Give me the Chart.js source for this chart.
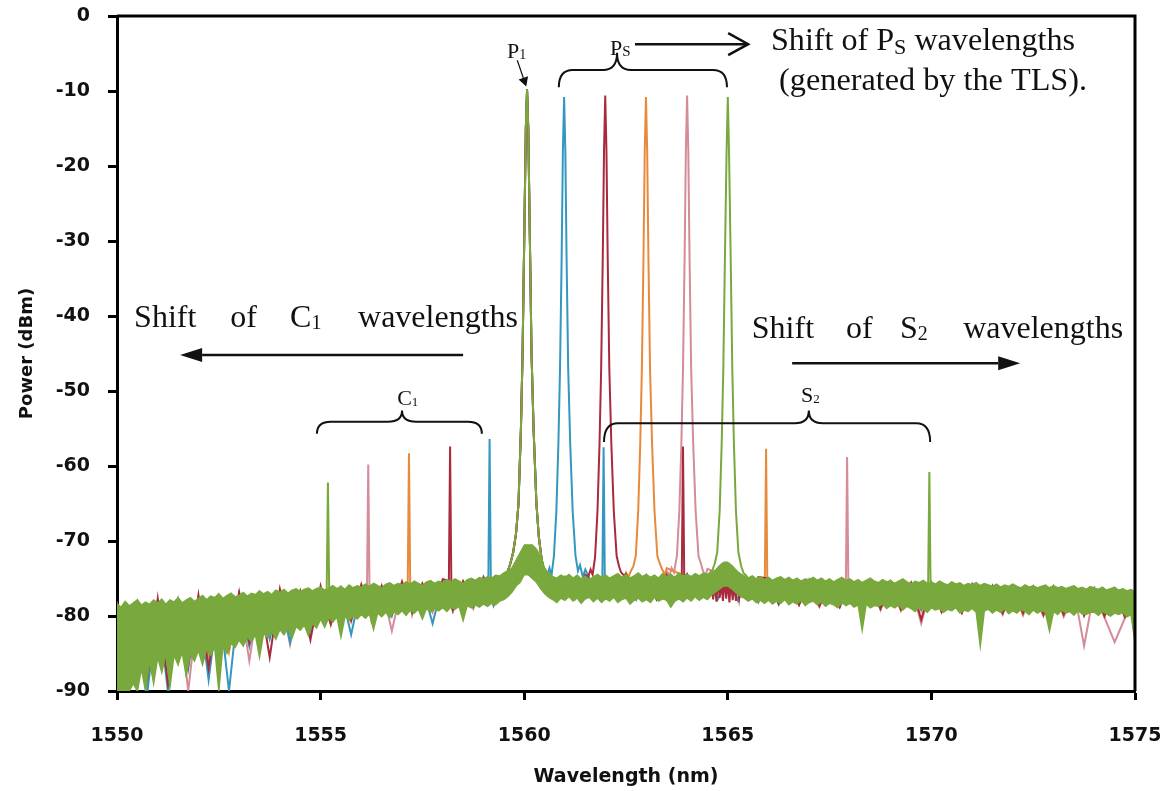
<!DOCTYPE html>
<html>
<head>
<meta charset="utf-8">
<script src="https://cdn.jsdelivr.net/npm/chart.js@4.4.1/dist/chart.umd.min.js"></script>
<style>
  body { margin: 0; background: #fff; }
  #wrap { width: 1163px; height: 791px; }
</style>
</head>
<body>
<div id="wrap"><canvas id="myChart" width="1163" height="791"></canvas></div>
<script>
// axis ticks: wavelength (nm) and power (dBm)
const xTicks = [1550, 1555, 1560, 1565, 1570, 1575];
const yTicks = [0, -10, -20, -30, -40, -50, -60, -70, -80, -90];

// green trace noise band, upper and lower edge, every 0.1 nm from 1550 to 1575
const greenTop = [
  -78.4, -78.9, -78.1, -78.7, -78.3, -77.9, -78.6, -78.2, -78.5, -77.9,
  -78.3, -77.8, -78.5, -77.9, -78.2, -77.6, -78.3, -77.9, -77.6, -78.1,
  -77.7, -77.3, -77.9, -77.4, -77.6, -77.1, -77.7, -77.3, -77.0, -77.5,
  -77.3, -76.9, -77.4, -77.0, -77.2, -76.7, -77.1, -76.8, -77.2, -76.6,
  -76.9, -76.5, -77.0, -76.6, -76.4, -76.8, -76.5, -76.3, -76.7, -76.4,
  -76.2, -76.6, -76.3, -76.0, -76.4, -76.1, -76.5, -75.9, -76.3, -76.0,
  -76.2, -75.8, -76.1, -75.7, -76.0, -76.3, -75.8, -75.6, -76.0, -75.7,
  -75.9, -75.5, -75.8, -75.4, -75.7, -76.0, -75.5, -75.3, -75.7, -75.4,
  -75.6, -75.2, -75.5, -75.1, -75.4, -75.7, -75.2, -75.0, -75.3, -74.9,
  -75.1, -74.8, -75.0, -74.6, -74.7, -74.3, -74.1, -73.5, -72.5, -71.5,
  -70.5, -70.5, -70.5, -71.0, -72.0, -73.5, -74.3, -74.8, -75.0, -74.6,
  -74.9, -74.5, -75.0, -74.6, -75.1, -74.7, -75.2, -74.8, -74.5, -74.9,
  -74.6, -75.0, -74.7, -74.4, -74.9, -74.5, -75.0, -74.7, -74.3, -74.8,
  -74.5, -74.9, -74.6, -75.0, -74.4, -74.8, -74.5, -74.9, -74.3, -74.7,
  -74.5, -74.8, -74.4, -74.7, -74.3, -74.5, -74.2, -73.8, -73.2, -72.8,
  -72.8, -73.2, -73.8, -74.3, -74.6, -75.0, -74.7, -75.1, -74.8, -75.2,
  -74.9, -75.3, -75.0, -74.8, -75.2, -74.9, -75.3, -75.0, -75.4, -75.1,
  -75.2, -74.9, -75.3, -75.0, -75.4, -75.1, -75.5, -75.2, -74.9, -75.3,
  -75.1, -75.5, -75.2, -75.6, -75.3, -75.0, -75.4, -75.6, -75.2, -75.5,
  -75.3, -75.7, -75.4, -75.1, -75.5, -75.8, -75.4, -75.6, -75.3, -75.7,
  -75.5, -75.8, -75.4, -75.7, -75.9, -75.5, -75.8, -75.6, -76.0, -75.7,
  -75.9, -75.6, -76.0, -75.7, -75.9, -76.1, -75.8, -76.2, -75.9, -76.1,
  -75.8, -76.1, -76.3, -75.9, -76.2, -76.0, -76.3, -76.1, -75.9, -76.3,
  -76.0, -76.3, -76.1, -76.4, -76.2, -76.0, -76.4, -76.2, -76.5, -76.1,
  -76.3, -76.5, -76.2, -76.6, -76.4, -76.2, -76.6, -76.4, -76.7, -76.5,
  -76.8
];
const greenBottom = [
  -90.0, -90.0, -90.0, -90.0, -89.0, -90.0, -87.0, -90.0, -86.0, -89.0,
  -85.5, -87.5, -85.0, -89.5, -85.2, -86.5, -84.8, -88.0, -85.0, -86.0,
  -84.6, -86.5, -84.4, -85.2, -84.2, -90.0, -84.0, -85.0, -83.6, -84.2,
  -83.2, -84.0, -82.8, -83.4, -82.5, -85.5, -82.3, -82.9, -82.0, -83.1,
  -81.8, -82.5, -81.6, -82.9, -81.4, -81.9, -81.2, -82.6, -81.0, -81.6,
  -80.4, -81.5, -80.2, -80.8, -80.1, -82.8, -80.0, -80.6, -79.9, -80.4,
  -79.8, -80.3, -79.7, -81.8, -79.6, -80.1, -79.5, -80.2, -79.4, -79.8,
  -79.3, -79.9, -79.2, -79.6, -79.1, -80.4, -79.0, -79.5, -79.0, -79.3,
  -78.9, -79.4, -78.8, -79.1, -78.7, -80.6, -78.6, -78.9, -78.5, -78.8,
  -78.4, -78.7, -78.3, -78.5, -78.0, -77.8, -77.4, -76.8, -76.0, -75.5,
  -74.5, -74.5, -75.0, -75.5, -76.3, -77.0, -77.5, -77.8, -78.2, -77.6,
  -77.9, -77.4, -78.0, -77.6, -78.3, -77.7, -77.5, -78.1, -77.6, -78.2,
  -77.7, -78.0, -77.5, -78.2, -77.8, -77.6, -78.4, -77.9, -77.6, -78.1,
  -77.8, -78.2, -77.5, -78.0, -77.7, -77.9, -78.8, -78.0, -77.7, -78.1,
  -77.6, -78.0, -77.4, -77.9, -77.5, -77.8, -77.2, -76.8, -76.4, -76.0,
  -76.0, -76.4, -76.9, -77.3, -77.6, -78.0, -77.7, -78.2, -77.9, -78.3,
  -77.9, -78.4, -78.0, -78.3, -77.8, -78.5, -78.1, -78.4, -77.9, -78.6,
  -78.2, -78.0, -78.5, -78.1, -78.7, -78.3, -78.5, -78.9, -78.2, -78.6,
  -78.3, -78.8, -78.5, -81.9, -78.4, -78.9, -78.6, -78.7, -78.4, -79.0,
  -78.6, -78.9, -78.5, -79.2, -78.7, -79.0, -79.4, -78.8, -79.1, -79.5,
  -78.9, -79.2, -79.0, -79.5, -79.1, -79.3, -78.9, -79.6, -79.2, -79.4,
  -79.0, -79.5, -84.0, -79.3, -79.1, -79.6, -79.2, -79.5, -79.0, -79.7,
  -79.3, -79.6, -79.1, -79.4, -79.8, -79.2, -79.6, -79.3, -79.5, -82.0,
  -79.4, -79.8, -79.2, -79.6, -79.4, -79.9, -79.3, -79.7, -79.8, -79.5,
  -79.5, -79.9, -79.4, -79.7, -80.0, -79.6, -79.8, -79.5, -80.1, -79.8,
  -83.5
];

// other traces every 0.25 nm from 1550 to 1575 (mostly hidden under green)
const redFloor = [
  -78.0, -90.0, -78.6, -88.0,  -77.7, -89.0, -78.2, -86.5,  -77.2, -87.0, -77.8, -84.0,
  -76.8, -83.5, -77.2, -85.5,  -76.4, -82.0, -76.8, -83.2,  -76.0, -81.0, -76.3, -80.5,
  -75.8, -80.0, -76.0, -79.6,  -75.4, -79.5, -75.7, -79.0,  -75.1, -79.1, -75.4, -78.6,
  -74.8, -78.2, -74.5, -73.0,  -70.0, -72.0, -74.6, -77.0,  -74.8, -77.6, -74.5, -77.2,
  -70.0, -70.0, -74.4, -77.4,  -74.6, -77.8, -74.5, -77.5,  -74.4, -77.3, -74.6, -76.5,
  -76.5, -75.2, -77.6, -74.8,  -75.0, -78.3, -75.2, -78.5,  -75.2, -78.6, -75.3, -78.8,
  -75.3, -78.9, -75.5, -79.0,  -75.4, -79.1, -75.6, -80.5,  -75.6, -79.4, -75.8, -79.5,
  -75.8, -79.5, -76.0, -79.6,  -76.0, -79.6, -76.1, -79.8,  -76.1, -79.8, -76.3, -79.9,
  -76.3, -80.0, -76.4, -80.1,  -77.5
];
const blueFloor = [
  -78.6, -88.0, -78.8, -90.0,  -78.3, -90.0, -78.4, -87.0,  -77.8, -88.5, -77.9, -90.0,
  -77.3, -84.0, -77.5, -83.0,  -76.9, -83.5, -77.0, -82.4,  -76.5, -81.0, -76.6, -82.5,
  -76.2, -80.2, -76.3, -80.0,  -75.9, -79.6, -76.0, -81.0,  -75.6, -79.2, -75.7, -78.8,
  -75.2, -78.5, -75.0, -74.0,  -70.0, -72.0, -74.8, -74.0,  -70.0, -70.0, -73.8, -76.8,
  -74.8, -77.6, -74.9, -77.8,  -74.9, -77.7, -74.8, -77.6,  -74.9, -77.5, -75.0, -77.8,
  -75.1, -77.9, -75.2, -78.1,  -75.3, -78.4, -75.4, -78.3,  -75.5, -78.6, -75.6, -78.7,
  -75.6, -78.8, -75.7, -79.0,  -75.8, -79.0, -75.9, -79.1,  -75.9, -79.3, -76.0, -79.4,
  -76.1, -79.4, -76.2, -79.6,  -76.2, -79.5, -76.3, -79.7,  -76.4, -79.7, -76.5, -79.8,
  -76.5, -79.9, -76.6, -80.0,  -77.8
];
const orangeFloor = [
  -78.7, -87.0, -78.9, -86.0,  -78.2, -88.5, -78.5, -85.5,  -77.7, -85.0, -78.0, -84.8,
  -77.2, -83.8, -77.4, -82.8,  -76.8, -82.4, -77.0, -81.8,  -76.4, -81.2, -76.5, -80.6,
  -76.1, -80.4, -76.2, -79.9,  -75.8, -79.8, -75.9, -79.3,  -75.5, -79.4, -75.6, -78.9,
  -75.1, -78.6, -74.9, -74.0,  -70.0, -72.0, -74.7, -77.2,  -74.9, -77.6, -74.8, -77.4,
  -74.8, -77.5, -74.2, -73.8,  -70.0, -70.0, -73.6, -74.2,  -74.8, -77.6, -74.9, -77.8,
  -75.0, -77.9, -75.1, -78.0,  -75.2, -78.3, -75.3, -78.5,  -75.4, -78.7, -75.5, -78.6,
  -75.6, -78.9, -75.7, -79.1,  -75.7, -79.2, -75.8, -79.3,  -75.9, -79.4, -76.0, -79.5,
  -76.0, -79.6, -76.2, -79.7,  -76.2, -79.8, -76.3, -79.9,  -76.3, -79.9, -76.4, -80.0,
  -76.5, -80.1, -76.6, -80.2,  -77.9
];
const pinkFloor = [
  -78.8, -86.0, -78.5, -89.0,  -78.3, -88.0, -78.1, -90.0,  -77.8, -86.0, -77.6, -84.5,
  -77.3, -86.0, -77.1, -83.0,  -76.9, -83.8, -76.7, -82.0,  -76.5, -81.0, -76.3, -80.8,
  -76.2, -80.5, -76.0, -82.0,  -75.9, -79.7, -75.7, -79.5,  -75.6, -79.3, -75.4, -79.0,
  -75.2, -78.6, -74.9, -74.0,  -70.0, -72.0, -74.8, -77.3,  -74.9, -77.7, -74.8, -77.5,
  -74.9, -77.6, -74.8, -77.8,  -74.9, -77.7, -74.0, -73.9,  -70.0, -70.0, -73.7, -74.3,
  -75.1, -78.0, -75.2, -78.2,  -75.3, -78.5, -75.4, -78.4,  -75.5, -78.8, -75.6, -78.7,
  -75.6, -79.0, -75.7, -79.2,  -75.8, -79.3, -75.9, -81.0,  -76.0, -79.5, -76.1, -79.6,
  -76.1, -79.7, -76.2, -79.8,  -76.3, -79.9, -76.4, -80.0,  -76.4, -80.1, -76.5, -84.0,
  -76.6, -80.2, -83.5, -80.3,  -78.0
];

// pump P1 near 1560 nm, common to all traces
const pumpPeak = [
  [1559.6, -74.0], [1559.66, -73.0], [1559.73, -71.5], [1559.8, -69.0], [1559.86, -65.0],
  [1559.92, -55.0], [1559.96, -45.0], [1560.0, -30.0], [1560.04, -15.0], [1560.07, -9.8],
  [1560.1, -15.0], [1560.14, -30.0], [1560.18, -45.0], [1560.23, -55.0], [1560.3, -65.0],
  [1560.36, -69.5], [1560.43, -72.5], [1560.5, -74.2]
];

// signal Ps peaks
const bluePs = [
  [1560.56, -74.8], [1560.62, -73.6], [1560.67, -74.6], [1560.73, -72.0], [1560.79, -66],
  [1560.84, -57], [1560.88, -47], [1560.92, -32], [1560.95, -18], [1560.98, -10.8],
  [1561.01, -18], [1561.04, -32], [1561.08, -47], [1561.13, -57], [1561.19, -66],
  [1561.26, -72], [1561.32, -74.0], [1561.37, -73.2], [1561.44, -74.8]
];
const redPs = [
  [1561.57, -74.8], [1561.63, -73.8], [1561.68, -74.5], [1561.74, -72.2], [1561.8, -66],
  [1561.85, -57], [1561.89, -47], [1561.93, -32], [1561.96, -18], [1561.99, -10.6],
  [1562.02, -18], [1562.05, -32], [1562.09, -47], [1562.14, -57], [1562.2, -66],
  [1562.27, -72], [1562.33, -73.4], [1562.38, -74.2], [1562.45, -74.6]
];
const orangePs = [
  [1562.56, -74.8], [1562.62, -74.0], [1562.68, -73.4], [1562.74, -72.0], [1562.8, -66],
  [1562.85, -57], [1562.89, -47], [1562.93, -32], [1562.96, -18], [1562.99, -10.8],
  [1563.02, -18], [1563.05, -32], [1563.09, -47], [1563.14, -57], [1563.2, -66],
  [1563.27, -72], [1563.33, -73.0], [1563.39, -73.8], [1563.45, -74.5]
];
const pinkPs = [
  [1563.57, -74.6], [1563.62, -73.6], [1563.68, -74.2], [1563.75, -72.0], [1563.81, -66],
  [1563.86, -57], [1563.9, -47], [1563.94, -32], [1563.97, -18], [1564.0, -10.6],
  [1564.03, -18], [1564.06, -32], [1564.1, -47], [1564.15, -57], [1564.21, -66],
  [1564.28, -72], [1564.34, -73.0], [1564.39, -74.0], [1564.45, -74.6]
];
const greenPs = [
  [1564.55, -74.3], [1564.62, -73.9], [1564.68, -73.0], [1564.74, -71.5], [1564.8, -66],
  [1564.85, -57], [1564.89, -47], [1564.93, -32], [1564.97, -18], [1565.0, -10.8],
  [1565.03, -18], [1565.07, -32], [1565.11, -47], [1565.15, -57], [1565.2, -66],
  [1565.26, -71.5], [1565.33, -73.4], [1565.39, -74.3], [1565.45, -74.6]
];

// idlers C1 and S2
const blueC1 = [[1559.12, -75.2], [1559.15, -56.4], [1559.18, -75.0]];
const blueS2 = [[1561.92, -75.0], [1561.95, -57.5], [1561.98, -75.2]];
const redC1 = [[1558.15, -75.3], [1558.18, -57.4], [1558.21, -75.4]];
const redS2 = [[1563.87, -74.8], [1563.9, -57.4], [1563.93, -75.0]];
const orangeC1 = [[1557.14, -75.8], [1557.17, -58.3], [1557.2, -75.7]];
const orangeS2 = [[1565.91, -75.2], [1565.94, -57.7], [1565.97, -75.4]];
const pinkC1 = [[1556.14, -76.1], [1556.17, -59.8], [1556.2, -76.2]];
const pinkS2 = [[1567.9, -75.5], [1567.93, -58.8], [1567.96, -75.6]];
const greenC1 = [[1555.15, -76.4], [1555.18, -62.2], [1555.21, -76.3]];
const greenS2 = [[1569.92, -75.8], [1569.95, -60.8], [1569.98, -76.0]];

// red trace bump under the 1565 nm signal
const redBlock = [
  [1564.6, -75.6], [1564.64, -77.8], [1564.68, -75.2], [1564.72, -78.1], [1564.76, -75.0],
  [1564.8, -77.6], [1564.84, -75.3], [1564.88, -78.0], [1564.92, -75.1], [1564.96, -77.7],
  [1565.0, -75.4], [1565.04, -78.2], [1565.08, -75.2], [1565.12, -77.9], [1565.16, -75.5],
  [1565.2, -78.0], [1565.24, -75.3], [1565.28, -77.6], [1565.32, -75.8], [1565.38, -77.4]
];

const fineX = greenTop.map((_, i) => +(1550 + i * 0.1).toFixed(2));
const coarseX = redFloor.map((_, i) => +(1550 + i * 0.25).toFixed(2));

function buildSeries(xs, ys, peaks) {
  const pts = [];
  xs.forEach((x, i) => {
    const inside = peaks.some(seg => x >= seg[0][0] && x <= seg[seg.length - 1][0]);
    if (!inside) pts.push({x: x, y: ys[i]});
  });
  peaks.forEach(seg => seg.forEach(p => pts.push({x: p[0], y: p[1]})));
  pts.sort((a, b) => a.x - b.x);
  return pts;
}
const toPts = (xs, ys) => xs.map((x, i) => ({x: x, y: ys[i]}));

const GREEN = '#79a83c';
const lineDs = (data, color, width) => ({
  data: data, borderColor: color, borderWidth: width, pointRadius: 0, tension: 0, fill: false
});

const datasets = [
  lineDs(buildSeries(fineX, greenTop, [pumpPeak, greenPs, greenC1, greenS2]), GREEN, 2),
  Object.assign(lineDs(toPts(fineX, greenTop), GREEN, 1), {fill: '+1', backgroundColor: GREEN}),
  lineDs(toPts(fineX, greenBottom), GREEN, 1.5),
  lineDs(buildSeries(coarseX, redFloor, [pumpPeak, redPs, redC1, redS2, redBlock]), '#a82a3c', 2),
  lineDs(buildSeries(coarseX, blueFloor, [pumpPeak, bluePs, blueC1, blueS2]), '#3497bf', 2),
  lineDs(buildSeries(coarseX, orangeFloor, [pumpPeak, orangePs, orangeC1, orangeS2]), '#e88a3c', 2),
  lineDs(buildSeries(coarseX, pinkFloor, [pumpPeak, pinkPs, pinkC1, pinkS2]), '#d58b98', 2)
];

// text pieces: [text, fontSize, baselineShift]
function drawRich(ctx, pieces, x, y, width) {
  let natural = 0;
  pieces.forEach(p => { ctx.font = p[1] + 'px "Liberation Serif"'; natural += ctx.measureText(p[0]).width; });
  const sx = width ? width / natural : 1;
  ctx.save();
  ctx.translate(x, y);
  ctx.scale(sx, 1);
  let cx = 0;
  pieces.forEach(p => {
    ctx.font = p[1] + 'px "Liberation Serif"';
    ctx.fillText(p[0], cx, p[2] || 0);
    cx += ctx.measureText(p[0]).width;
  });
  ctx.restore();
}

function brace(ctx, x1, x2, xm, yEnd, yBar, yTip) {
  const r = 14;
  ctx.beginPath();
  ctx.moveTo(x1, yEnd);
  ctx.quadraticCurveTo(x1, yBar, x1 + r, yBar);
  ctx.lineTo(xm - r, yBar);
  ctx.quadraticCurveTo(xm, yBar, xm, yTip);
  ctx.quadraticCurveTo(xm, yBar, xm + r, yBar);
  ctx.lineTo(x2 - r, yBar);
  ctx.quadraticCurveTo(x2, yBar, x2, yEnd);
  ctx.stroke();
}

function arrow(ctx, x1, y1, x2, y2, len, half, open) {
  const a = Math.atan2(y2 - y1, x2 - x1);
  const bx = x2 - len * Math.cos(a), by = y2 - len * Math.sin(a);
  const nx = -Math.sin(a) * half, ny = Math.cos(a) * half;
  ctx.beginPath();
  ctx.moveTo(x1, y1);
  ctx.lineTo(open ? x2 : bx, open ? y2 : by);
  ctx.stroke();
  ctx.beginPath();
  if (open) {
    ctx.moveTo(bx + nx, by + ny); ctx.lineTo(x2, y2); ctx.lineTo(bx - nx, by - ny);
    ctx.stroke();
  } else {
    ctx.moveTo(x2, y2); ctx.lineTo(bx + nx, by + ny); ctx.lineTo(bx - nx, by - ny);
    ctx.closePath(); ctx.fill();
  }
}

const notes = {
  id: 'notes',
  afterDatasetsDraw(chart) {
    const ctx = chart.ctx, a = chart.chartArea;
    const X = v => chart.scales.x.getPixelForValue(v);
    const Y = v => chart.scales.y.getPixelForValue(v);
    ctx.save();
    // frame top and right
    ctx.strokeStyle = '#000';
    ctx.lineWidth = 3;
    ctx.beginPath();
    ctx.moveTo(a.left, a.top); ctx.lineTo(a.right, a.top); ctx.lineTo(a.right, a.bottom);
    ctx.stroke();

    ctx.fillStyle = '#111';
    ctx.strokeStyle = '#111';
    ctx.textBaseline = 'alphabetic';

    // P1
    drawRich(ctx, [['P', 22], ['1', 14, 1]], X(1559.58), Y(-5.6));
    ctx.lineWidth = 1.2;
    arrow(ctx, X(1559.83), Y(-5.9), X(1560.05), Y(-9.4), 9, 5, false);

    // Ps
    drawRich(ctx, [['P', 22], ['S', 15, 1]], X(1562.11), Y(-5.2));
    ctx.lineWidth = 2.5;
    arrow(ctx, X(1562.72), Y(-3.75), X(1565.5), Y(-3.75), 20, 11, true);
    ctx.lineWidth = 2;
    brace(ctx, X(1560.85), X(1564.98), X(1562.28), Y(-9.5), Y(-7.2), Y(-4.9));
    drawRich(ctx, [['Shift of P', 32], ['S', 22, 4], [' wavelengths', 32]], X(1566.06), Y(-4.5), 304);
    drawRich(ctx, [['(generated by the TLS).', 32]], X(1566.26), Y(-9.8), 308);

    // C1
    const yc = Y(-41.5);
    drawRich(ctx, [['Shift', 32]], X(1550.42), yc);
    drawRich(ctx, [['of', 32]], X(1552.78), yc);
    drawRich(ctx, [['C', 32], ['1', 20, 2]], X(1554.25), yc);
    drawRich(ctx, [['wavelengths', 32]], X(1555.92), yc);
    ctx.lineWidth = 2.5;
    arrow(ctx, X(1558.5), Y(-45.2), X(1551.55), Y(-45.2), 22, 7, false);
    ctx.lineWidth = 2;
    brace(ctx, X(1554.91), X(1558.96), X(1557.0), Y(-55.7), Y(-54.1), Y(-52.6));
    drawRich(ctx, [['C', 22], ['1', 13, 1]], X(1556.88), Y(-51.8));

    // S2
    const ys = Y(-42.9);
    drawRich(ctx, [['Shift', 32]], X(1565.59), ys);
    drawRich(ctx, [['of', 32]], X(1567.9), ys);
    drawRich(ctx, [['S', 32], ['2', 20, 2]], X(1569.23), ys);
    drawRich(ctx, [['wavelengths', 32]], X(1570.78), ys);
    ctx.lineWidth = 2.5;
    arrow(ctx, X(1566.58), Y(-46.3), X(1572.18), Y(-46.3), 22, 7, false);
    ctx.lineWidth = 2;
    brace(ctx, X(1561.96), X(1569.97), X(1566.99), Y(-56.8), Y(-54.3), Y(-52.6));
    drawRich(ctx, [['S', 22], ['2', 13, 1]], X(1566.8), Y(-51.5));
    ctx.restore();
  }
};

const ctx = document.getElementById('myChart').getContext('2d');
const myChart = new Chart(ctx, {
  type: 'line',
  data: { datasets: datasets },
  options: {
    responsive: false,
    animation: false,
    layout: { padding: { left: 0, right: 28, top: 16, bottom: 0 } },
    plugins: { legend: { display: false }, tooltip: { enabled: false } },
    scales: {
      x: {
        type: 'linear',
        min: 1550,
        max: 1575,
        afterBuildTicks: s => { s.ticks = xTicks.map(v => ({value: v})); },
        afterFit: s => { s.height = 100; s.paddingLeft = 0; s.paddingRight = 0; },
        ticks: {
          color: '#111',
          padding: 25,
          maxRotation: 0,
          callback: v => String(v),
          font: { family: 'DejaVu Sans', weight: 'bold', size: 19 }
        },
        grid: { drawOnChartArea: false, drawTicks: true, tickLength: 9, tickWidth: 3, tickColor: '#000' },
        border: { display: true, width: 3, color: '#000' },
        title: {
          display: true,
          text: 'Wavelength (nm)',
          color: '#111',
          padding: { top: 0, bottom: 3 },
          font: { family: 'DejaVu Sans', weight: 'bold', size: 19 }
        }
      },
      y: {
        min: -90,
        max: 0,
        afterBuildTicks: s => { s.ticks = yTicks.map(v => ({value: v})); },
        afterFit: s => { s.width = 117; s.paddingTop = 0; s.paddingBottom = 0; },
        ticks: {
          color: '#111',
          padding: 18,
          callback: v => String(v),
          font: { family: 'DejaVu Sans', weight: 'bold', size: 19 }
        },
        grid: { drawOnChartArea: false, drawTicks: true, tickLength: 9, tickWidth: 3, tickColor: '#000' },
        border: { display: true, width: 3, color: '#000' },
        title: {
          display: true,
          text: 'Power (dBm)',
          color: '#111',
          padding: { top: 17, bottom: 0 },
          font: { family: 'DejaVu Sans', weight: 'bold', size: 18 }
        }
      }
    }
  },
  plugins: [notes]
});
</script>
</body>
</html>
